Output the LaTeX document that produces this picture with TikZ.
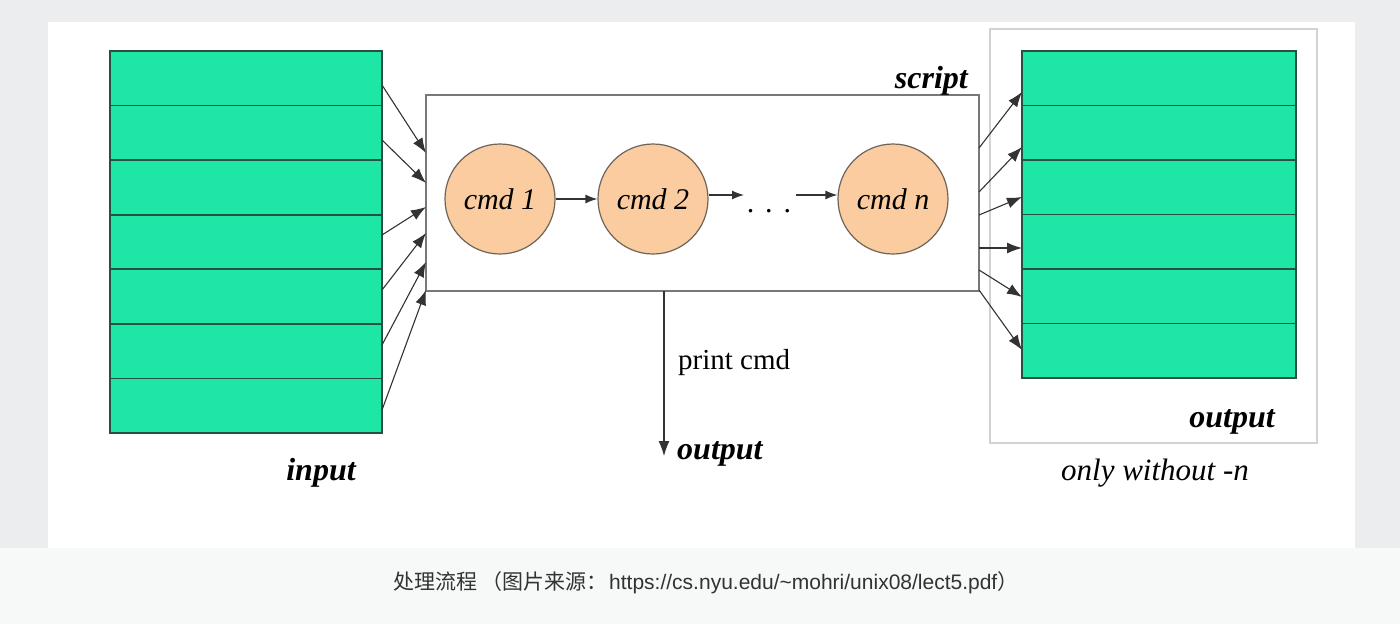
\documentclass[tikz,border=0pt]{standalone}
\usepackage{fontspec}
\setmainfont{Liberation Serif}
\newfontfamily\cjk{Noto Sans CJK SC}
\newfontfamily\capsans{Liberation Sans}
\usetikzlibrary{arrows.meta,positioning,calc}
\definecolor{bgouter}{RGB}{236,237,238}
\definecolor{teal}{RGB}{30,230,166}
\definecolor{rowline}{RGB}{40,80,65}
\definecolor{peach}{RGB}{250,204,160}
\definecolor{cborder}{RGB}{110,100,90}
\definecolor{boxline}{RGB}{120,120,120}
\definecolor{framegray}{RGB}{210,210,210}
\definecolor{captext}{RGB}{50,50,50}
\tikzset{
  row/.style={draw=rowline, line width=1.6pt, fill=teal, minimum height=54.6pt, inner sep=0pt},
  cmdnode/.style={circle, draw=cborder, line width=1.2pt, fill=peach, minimum size=110pt, inner sep=0pt, font=\fontsize{30}{36}\selectfont\itshape},
  flow/.style={draw=black!80, line width=1.1pt, -{Latex[length=15pt,width=11pt]}},
  boldlab/.style={font=\fontsize{32}{38}\selectfont\bfseries\itshape, inner sep=0pt},
}
\begin{document}
\begin{tikzpicture}[x=1pt,y=-1pt]
\useasboundingbox (0,0) rectangle (1400,624);
% backgrounds
\fill[bgouter] (0,0) rectangle (1400,624);
\fill[white!60!bgouter] (0,548) rectangle (1400,624);
\fill[white] (48,22) rectangle (1355,548);
% output frame
\node[draw=framegray, line width=1.2pt, minimum width=327pt, minimum height=414pt, inner sep=0pt] (oframe) at (1153.5,236) {};
% input rows
\foreach \i in {1,...,7}{
  \pgfmathsetmacro\yy{51+27.29+54.57*(\i-1)}
  \node[row, minimum width=272pt] (in\i) at (246,\yy) {};
}
% output rows
\foreach \i in {1,...,6}{
  \pgfmathsetmacro\yy{51+27.25+54.5*(\i-1)}
  \node[row, minimum width=274pt] (out\i) at (1159,\yy) {};
}
% script box
\node[draw=boxline, line width=1.6pt, minimum width=553pt, minimum height=196pt, inner sep=0pt] (script) at (702.5,193) {};
\node[boldlab, anchor=base east] (scriptlab) at (968,88) {script};
% commands
\node[cmdnode] (c1) at (500,199) {cmd 1};
\node[cmdnode] (c2) at (653,199) {cmd 2};
\node[cmdnode] (cn) at (893,199) {cmd n};
\node[font=\fontsize{30}{36}\selectfont, inner sep=0pt, anchor=base] (dots) at (769,212) {.\hspace{11pt}.\hspace{11pt}.};
\coordinate (d1) at (744,195);
\coordinate (d2) at (796,195);
\draw[flow, line width=1.2pt, -{Latex[length=12pt,width=9pt]}] (c1) -- (c2);
\draw[flow, line width=1.2pt, -{Latex[length=12pt,width=9pt]}] (c2.east |- d1) -- (d1);
\draw[flow, line width=1.2pt, -{Latex[length=12pt,width=9pt]}] (d2) -- (cn.west |- d2);
% input arrows
\foreach \a/\b [count=\k] in {85/153, 140/183, 235/207, 290/233, 345/262, 410/290}{
  \coordinate (ia\k) at (382,\a);
  \coordinate (ib\k) at (426,\b);
  \draw[flow] (ia\k) -- (ib\k);
}
% output arrows
\foreach \a/\b [count=\k] in {148/92, 192/147, 215/197, 248/248, 270/297, 290/350}{
  \coordinate (oa\k) at (979,\a);
  \coordinate (ob\k) at (1022,\b);
  \draw[flow] (oa\k) -- (ob\k);
}
% print cmd
\coordinate (pstart) at (664,291);
\coordinate (pend) at (664,456);
\draw[flow] (pstart) -- (pend);
\node[font=\fontsize{29}{34}\selectfont, anchor=base west, inner sep=0pt] (printlab) at (678,369) {print cmd};
\node[boldlab, anchor=base west] (midout) at (677,459) {output};
% labels
\node[boldlab, anchor=base] (inlab) at (321,480) {input};
\node[boldlab, anchor=base] (outlab) at (1232,427) {output};
\node[font=\fontsize{31}{36}\selectfont\itshape, anchor=base, inner sep=0pt] (onlylab) at (1155,480) {only without -n};
% caption
\node[text=captext, anchor=base west, inner sep=0pt] (caption) at (393,589) {\fontsize{21}{25}\selectfont\cjk 处理流程\hspace{4pt}（图片来源：\hspace{2pt}\capsans https://cs.nyu.edu/\textasciitilde mohri/unix08/lect5.pdf\cjk ）};
\end{tikzpicture}
\end{document}
